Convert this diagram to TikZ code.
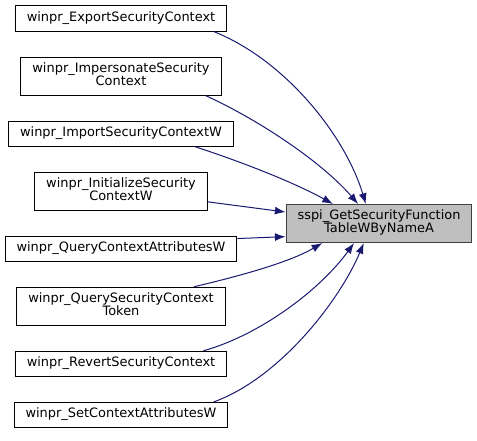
\documentclass[tikz,border=0pt]{standalone}
\usepackage{fontspec}
\setmainfont{DejaVu Sans}
\usetikzlibrary{arrows.meta,positioning}
\definecolor{edgeblue}{RGB}{25,25,112}
\definecolor{hitgray}{RGB}{191,191,191}

\begin{document}
\begin{tikzpicture}[
  x=0.75pt, y=-0.75pt,
  >={Latex[length=8pt,width=6pt]},
  every node/.style={draw,align=center,inner xsep=8.6pt,inner ysep=4.25pt,line width=0.75pt,
    font=\fontsize{9.7}{9.75}\selectfont,execute at end node=\strut},
  caller/.style={draw=black,fill=white},
  callee/.style={draw=black!75,fill=hitgray},
  call/.style={->,draw=edgeblue,line width=0.75pt},
  node distance=18.75pt,
  ]
  \useasboundingbox (0,0) rectangle (477,440);
  \node[caller] (export) at (121,18.5) {winpr\_ExportSecurityContext};
  \node[caller, below = of export] (impersonate) {winpr\_ImpersonateSecurity\\Context};
  \node[caller, below = of impersonate] (import) {winpr\_ImportSecurityContextW};
  \node[caller, below = of import] (initialize) {winpr\_InitializeSecurity\\ContextW};
  \node[caller, below = of initialize] (querycontext) {winpr\_QueryContextAttributesW};
  \node[caller, below = of querycontext] (querytoken) {winpr\_QuerySecurityContext\\Token};
  \node[caller, below = of querytoken] (revert) {winpr\_RevertSecurityContext};
  \node[caller, below = of revert] (setcontext) {winpr\_SetContextAttributesW};
  \node[callee] (getfunc) at (379,223.5) {sspi\_GetSecurityFunction\\TableWByNameA};

  \draw [call] (export.-8) .. controls (285,60) and (345,135) .. (getfunc.124);
  \draw [call] (impersonate.-13) .. controls (255,118) and (320,160) .. (getfunc.137);
  \draw [call] (import.-10) .. controls (245,163) and (295,183) .. (getfunc.157);
  \draw [call] (initialize.-7) -- (getfunc.173);
  \draw [call] (querycontext.5) -- (getfunc.188);
  \draw [call] (querytoken.15) .. controls (240,276) and (290,262) .. (getfunc.199);
  \draw [call] (revert.9) .. controls (260,335) and (320,290) .. (getfunc.218);
  \draw [call] (setcontext.8) .. controls (280,378) and (340,300) .. (getfunc.232);
\end{tikzpicture}
\end{document}
